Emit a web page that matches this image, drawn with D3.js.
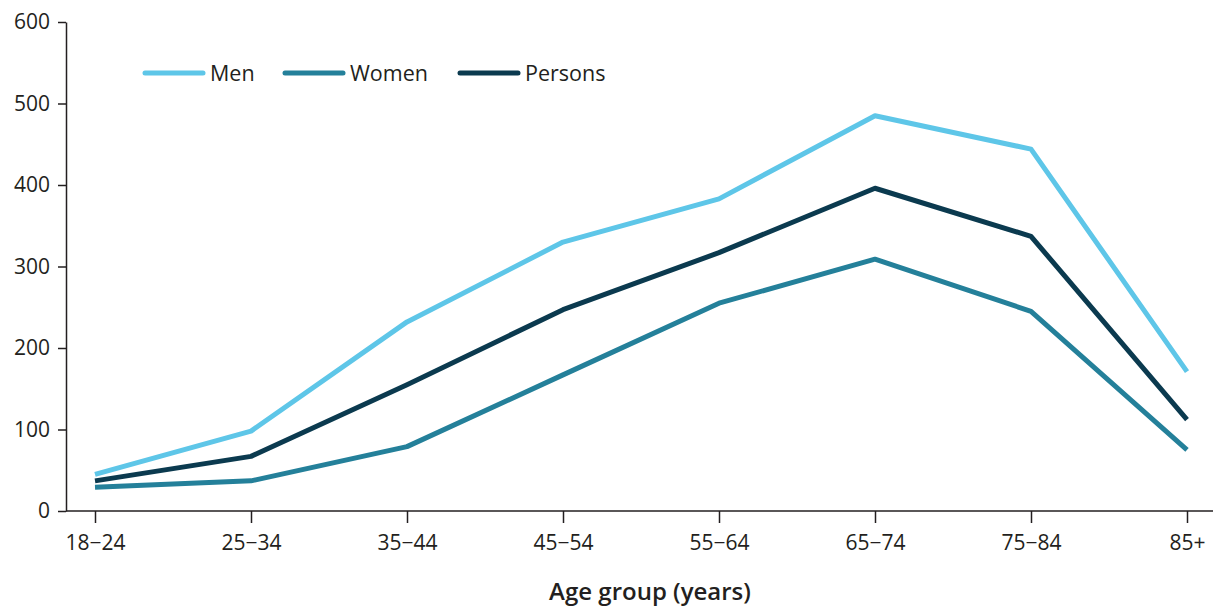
<!DOCTYPE html>
<html>
<head>
<meta charset="utf-8">
<script src="https://cdn.jsdelivr.net/npm/d3@7"></script>
<style>
  body { margin: 0; background: #fff; }
  svg { font-family: "Open Sans", sans-serif; }
  .axis path, .axis line { stroke: #231f20; stroke-width: 1.5; }
</style>
</head>
<body>
<div class="chart"></div>
<script>
// data
const ageGroups = ["18−24", "25−34", "35−44", "45−54", "55−64", "65−74", "75−84", "85+"];
const men = [45, 98, 232, 330, 383, 485, 444, 171];
const women = [29, 37, 79, 167, 255, 309, 245, 75];
const persons = [37, 67, 155, 247, 317, 396, 337, 112];
const seriesNames = ["Men", "Women", "Persons"];
const seriesColors = ["#5ec6e8", "#24809a", "#0b3a4f"];
const yTicks = [0, 100, 200, 300, 400, 500, 600];

const W = 1213, H = 608;
const marginLeft = 66, plotTop = 22, plotBottom = 511;

const svg = d3.select(".chart").append("svg").attr("width", W).attr("height", H);

const x = d3.scalePoint().domain(ageGroups).range([95, 1187]);
const y = d3.scaleLinear().domain([0, 600]).range([plotBottom, plotTop]);

// y axis
svg.append("g")
  .attr("class", "axis")
  .attr("transform", "translate(" + marginLeft + ",0)")
  .call(d3.axisLeft(y).tickValues(yTicks).tickSize(8).tickPadding(8).tickSizeOuter(0))
  .attr("font-family", "Open Sans").attr("font-size", 21)
  .call(g => g.selectAll("text").attr("fill", "#231f20"));

// x axis
const xAxis = svg.append("g")
  .attr("class", "axis")
  .attr("transform", "translate(0," + plotBottom + ")")
  .call(d3.axisBottom(x).tickSize(12).tickPadding(12))
  .attr("font-family", "Open Sans").attr("font-size", 21)
  .call(g => g.selectAll("text").attr("fill", "#231f20"));
xAxis.select(".domain").attr("d", "M" + marginLeft + ",0H" + W);

svg.append("text")
  .attr("x", 650).attr("y", 600)
  .attr("text-anchor", "middle")
  .style("font-size", "24px").style("font-weight", 600).style("fill", "#231f20")
  .text("Age group (years)");

// lines
const allSeries = [men, women, persons];
const line = d3.line().x((d, i) => x(ageGroups[i])).y(d => y(d));
allSeries.forEach((vals, k) => {
  svg.append("path")
    .datum(vals)
    .attr("d", line)
    .attr("fill", "none")
    .attr("stroke", seriesColors[k])
    .attr("stroke-width", 5)
    .attr("stroke-linejoin", "round");
});

// legend
const legendX = [143, 283, 458];
seriesNames.forEach((name, k) => {
  const g = svg.append("g").attr("transform", "translate(" + legendX[k] + ",73)");
  g.append("line").attr("x1", 2).attr("x2", 60)
    .attr("stroke", seriesColors[k]).attr("stroke-width", 5).attr("stroke-linecap", "round");
  g.append("text").attr("x", 67).attr("dy", "0.35em")
    .style("font-size", "21.5px").style("fill", "#231f20").text(name);
});
</script>
</body>
</html>
